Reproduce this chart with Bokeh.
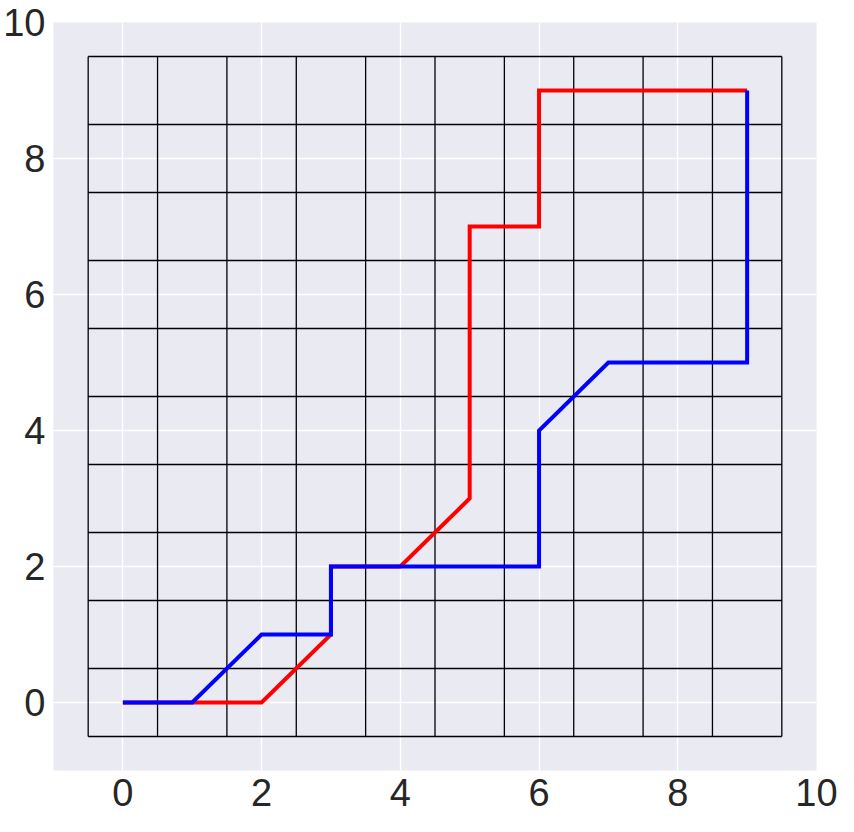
from bokeh.plotting import figure
from bokeh.models import Range1d, FixedTicker
from bokeh.embed import file_html
from bokeh.resources import INLINE

# Data
red_x = [0, 1, 2, 3, 3, 4, 5, 5, 6, 6, 9]
red_y = [0, 0, 0, 1, 2, 2, 3, 7, 7, 9, 9]
blue_x = [0, 1, 2, 3, 3, 6, 6, 7, 9, 9]
blue_y = [0, 0, 1, 1, 2, 2, 4, 5, 5, 9]
grid_edges = [-0.5, 0.5, 1.5, 2.5, 3.5, 4.5, 5.5, 6.5, 7.5, 8.5, 9.5]
tick_values = [0, 2, 4, 6, 8, 10]

p = figure(width=838, height=816, output_backend="svg", toolbar_location=None,
           x_range=Range1d(-1, 10), y_range=Range1d(-1, 10),
           min_border_left=50, min_border_top=22, min_border_right=22, min_border_bottom=46,
           background_fill_color="#EAEAF2", border_fill_color="white")
p.outline_line_color = None

for ax in (p.xaxis, p.yaxis):
    ax.ticker = FixedTicker(ticks=tick_values)
    ax.axis_line_color = None
    ax.major_tick_line_color = None
    ax.minor_tick_line_color = None
    ax.major_tick_out = 0
    ax.major_tick_in = 0
    ax.major_label_text_font = "Liberation Sans"
    ax.major_label_text_font_size = "38px"
    ax.major_label_text_color = "#262626"
    ax.major_label_standoff = 8

p.grid.grid_line_color = "white"
p.grid.grid_line_width = 1.4

lo, hi = grid_edges[0], grid_edges[-1]
# vertical cell lines
p.segment(x0=grid_edges, y0=[lo] * len(grid_edges), x1=grid_edges, y1=[hi] * len(grid_edges),
          line_color="black", line_width=1.3)
# horizontal cell lines
p.segment(x0=[lo] * len(grid_edges), y0=grid_edges, x1=[hi] * len(grid_edges), y1=grid_edges,
          line_color="black", line_width=1.3)

p.line(red_x, red_y, line_color="#FF0000", line_width=4, line_join="miter")
p.line(blue_x, blue_y, line_color="#0000FF", line_width=4, line_join="miter")

open("out.html", "w").write(file_html(p, INLINE))
